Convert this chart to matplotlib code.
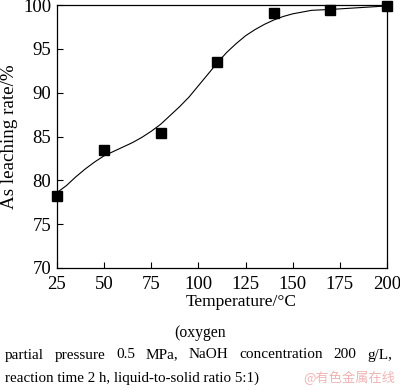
import numpy as np
import matplotlib.pyplot as plt

# Datos medidos (puntos)
temp_points = [25, 50, 80, 110, 140, 170, 200]
rate_points = [78.2, 83.5, 85.4, 93.5, 99.1, 99.4, 99.9]

# Curva de ajuste
temp_curve = [25, 30, 35, 40, 45, 50, 55, 60, 65, 70, 75, 80, 85, 90, 95, 100,
              105, 110, 115, 120, 125, 130, 135, 140, 145, 150, 160, 170, 185, 200]
rate_curve = [78.6, 79.4, 80.4, 81.3, 82.1, 82.8, 83.3, 83.8, 84.3, 84.9, 85.6, 86.4,
              87.4, 88.4, 89.5, 90.8, 92.1, 93.4, 94.6, 95.6, 96.5, 97.2, 97.8, 98.3,
              98.7, 99.0, 99.4, 99.5, 99.7, 99.9]

x_ticks = [25, 50, 75, 100, 125, 150, 175, 200]
y_ticks = [70, 75, 80, 85, 90, 95, 100]

caption_1 = "(oxygen"
caption_2 = "partial pressure 0.5 MPa, NaOH concentration 200 g/L,"
caption_3 = "reaction time 2 h, liquid-to-solid ratio 5:1)"
watermark = "@有色金属在线"

plt.rcParams['font.family'] = ['Liberation Serif', 'DejaVu Serif']

fig = plt.figure(figsize=(4, 3.9), dpi=100)
ax = fig.add_axes([0.1425, 0.313, 0.825, 0.674])

ax.plot(temp_curve, rate_curve, color="black", linewidth=0.8)
ax.plot(temp_points, rate_points, linestyle="none", marker="s", markersize=7,
        color="black", clip_on=False)

ax.set_xlim(25, 200)
ax.set_ylim(70, 100)
ax.set_xticks(x_ticks)
ax.set_yticks(y_ticks)
ax.tick_params(direction="in", length=4, width=0.8, labelsize=13.5, pad=4,
               top=False, right=False)
ax.tick_params(axis="x", pad=6)
for s in ax.spines.values():
    s.set_linewidth(0.9)

ax.set_xlabel("Temperature/°C", fontsize=12.5)
ax.xaxis.set_label_coords(0.558, -0.1)
ax.set_ylabel("As leaching rate/%", fontsize=13.7, labelpad=4)

# Pie de figura
fig.text(0.5, 1 - 333 / 390, caption_1, ha="center", va="center", fontsize=11.3)

# Linea justificada
fig.canvas.draw()
renderer = fig.canvas.get_renderer()
words = caption_2.split()
x_left, x_right = 5 / 400, 392 / 400
y2 = 1 - 355 / 390
texts = [fig.text(0, y2, w, ha="left", va="center", fontsize=11) for w in words]
widths = [t.get_window_extent(renderer).width / fig.bbox.width for t in texts]
gap = (x_right - x_left - sum(widths)) / (len(words) - 1)
xpos = x_left
for t, w in zip(texts, widths):
    t.set_x(xpos)
    xpos += w + gap

fig.text(5 / 400, 1 - 378 / 390, caption_3, ha="left", va="center", fontsize=10.8)
fig.text(395 / 400, 1 - 378 / 390, watermark, ha="right", va="center", fontsize=9.5,
         color="#f0b4b4", family=['Noto Sans CJK SC', 'DejaVu Sans'])

plt.savefig("out.png", dpi=100)
